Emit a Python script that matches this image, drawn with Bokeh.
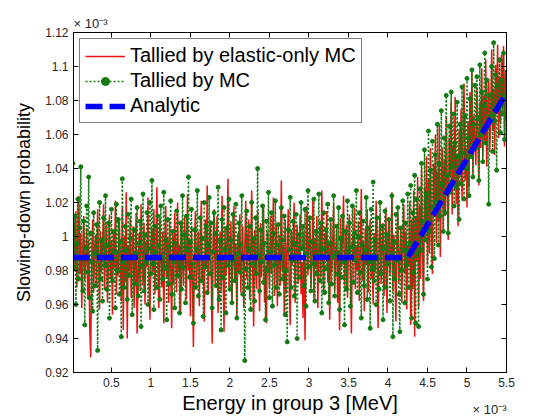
from bokeh.plotting import figure
from bokeh.models import (Range1d, LinearAxis, FixedTicker, CustomJSTickFormatter,
                          Legend, LegendItem, Title)
from bokeh.embed import file_html
from bokeh.resources import INLINE

# Energy in group 3, in units of 1e-3 MeV
energy = [
    0.0125, 0.025, 0.0375, 0.05, 0.0625, 0.075, 0.0875, 0.1,
    0.1125, 0.125, 0.1375, 0.15, 0.1625, 0.175, 0.1875, 0.2,
    0.2125, 0.225, 0.2375, 0.25, 0.2625, 0.275, 0.2875, 0.3,
    0.3125, 0.325, 0.3375, 0.35, 0.3625, 0.375, 0.3875, 0.4,
    0.4125, 0.425, 0.4375, 0.45, 0.4625, 0.475, 0.4875, 0.5,
    0.5125, 0.525, 0.5375, 0.55, 0.5625, 0.575, 0.5875, 0.6,
    0.6125, 0.625, 0.6375, 0.65, 0.6625, 0.675, 0.6875, 0.7,
    0.7125, 0.725, 0.7375, 0.75, 0.7625, 0.775, 0.7875, 0.8,
    0.8125, 0.825, 0.8375, 0.85, 0.8625, 0.875, 0.8875, 0.9,
    0.9125, 0.925, 0.9375, 0.95, 0.9625, 0.975, 0.9875, 1.0,
    1.0125, 1.025, 1.0375, 1.05, 1.0625, 1.075, 1.0875, 1.1,
    1.1125, 1.125, 1.1375, 1.15, 1.1625, 1.175, 1.1875, 1.2,
    1.2125, 1.225, 1.2375, 1.25, 1.2625, 1.275, 1.2875, 1.3,
    1.3125, 1.325, 1.3375, 1.35, 1.3625, 1.375, 1.3875, 1.4,
    1.4125, 1.425, 1.4375, 1.45, 1.4625, 1.475, 1.4875, 1.5,
    1.5125, 1.525, 1.5375, 1.55, 1.5625, 1.575, 1.5875, 1.6,
    1.6125, 1.625, 1.6375, 1.65, 1.6625, 1.675, 1.6875, 1.7,
    1.7125, 1.725, 1.7375, 1.75, 1.7625, 1.775, 1.7875, 1.8,
    1.8125, 1.825, 1.8375, 1.85, 1.8625, 1.875, 1.8875, 1.9,
    1.9125, 1.925, 1.9375, 1.95, 1.9625, 1.975, 1.9875, 2.0,
    2.0125, 2.025, 2.0375, 2.05, 2.0625, 2.075, 2.0875, 2.1,
    2.1125, 2.125, 2.1375, 2.15, 2.1625, 2.175, 2.1875, 2.2,
    2.2125, 2.225, 2.2375, 2.25, 2.2625, 2.275, 2.2875, 2.3,
    2.3125, 2.325, 2.3375, 2.35, 2.3625, 2.375, 2.3875, 2.4,
    2.4125, 2.425, 2.4375, 2.45, 2.4625, 2.475, 2.4875, 2.5,
    2.5125, 2.525, 2.5375, 2.55, 2.5625, 2.575, 2.5875, 2.6,
    2.6125, 2.625, 2.6375, 2.65, 2.6625, 2.675, 2.6875, 2.7,
    2.7125, 2.725, 2.7375, 2.75, 2.7625, 2.775, 2.7875, 2.8,
    2.8125, 2.825, 2.8375, 2.85, 2.8625, 2.875, 2.8875, 2.9,
    2.9125, 2.925, 2.9375, 2.95, 2.9625, 2.975, 2.9875, 3.0,
    3.0125, 3.025, 3.0375, 3.05, 3.0625, 3.075, 3.0875, 3.1,
    3.1125, 3.125, 3.1375, 3.15, 3.1625, 3.175, 3.1875, 3.2,
    3.2125, 3.225, 3.2375, 3.25, 3.2625, 3.275, 3.2875, 3.3,
    3.3125, 3.325, 3.3375, 3.35, 3.3625, 3.375, 3.3875, 3.4,
    3.4125, 3.425, 3.4375, 3.45, 3.4625, 3.475, 3.4875, 3.5,
    3.5125, 3.525, 3.5375, 3.55, 3.5625, 3.575, 3.5875, 3.6,
    3.6125, 3.625, 3.6375, 3.65, 3.6625, 3.675, 3.6875, 3.7,
    3.7125, 3.725, 3.7375, 3.75, 3.7625, 3.775, 3.7875, 3.8,
    3.8125, 3.825, 3.8375, 3.85, 3.8625, 3.875, 3.8875, 3.9,
    3.9125, 3.925, 3.9375, 3.95, 3.9625, 3.975, 3.9875, 4.0,
    4.0125, 4.025, 4.0375, 4.05, 4.0625, 4.075, 4.0875, 4.1,
    4.1125, 4.125, 4.1375, 4.15, 4.1625, 4.175, 4.1875, 4.2,
    4.2125, 4.225, 4.2375, 4.25, 4.2625, 4.275, 4.2875, 4.3,
    4.3125, 4.325, 4.3375, 4.35, 4.3625, 4.375, 4.3875, 4.4,
    4.4125, 4.425, 4.4375, 4.45, 4.4625, 4.475, 4.4875, 4.5,
    4.5125, 4.525, 4.5375, 4.55, 4.5625, 4.575, 4.5875, 4.6,
    4.6125, 4.625, 4.6375, 4.65, 4.6625, 4.675, 4.6875, 4.7,
    4.7125, 4.725, 4.7375, 4.75, 4.7625, 4.775, 4.7875, 4.8,
    4.8125, 4.825, 4.8375, 4.85, 4.8625, 4.875, 4.8875, 4.9,
    4.9125, 4.925, 4.9375, 4.95, 4.9625, 4.975, 4.9875, 5.0,
    5.0125, 5.025, 5.0375, 5.05, 5.0625, 5.075, 5.0875, 5.1,
    5.1125, 5.125, 5.1375, 5.15, 5.1625, 5.175, 5.1875, 5.2,
    5.2125, 5.225, 5.2375, 5.25, 5.2625, 5.275, 5.2875, 5.3,
    5.3125, 5.325, 5.3375, 5.35, 5.3625, 5.375, 5.3875, 5.4,
    5.4125, 5.425, 5.4375, 5.45, 5.4625, 5.475, 5.4875, 5.5,
]

# Slowing-down probability, in units of 1e-3
elastic_only_mc = [
    0.965, 1.008, 0.982, 1.015, 0.970, 0.996, 1.024, 0.978,
    1.002, 0.958, 0.991, 1.012, 0.974, 0.987, 1.005, 0.963,
    0.998, 0.948, 0.929, 0.984, 1.010, 0.967, 0.993, 1.001,
    0.972, 1.016, 0.986, 0.957, 1.003, 0.979, 0.994, 1.019,
    0.969, 0.990, 1.007, 0.961, 0.983, 1.013, 0.975, 0.998,
    0.954, 1.004, 0.981, 1.021, 0.966, 0.992, 0.977, 1.009,
    0.988, 0.962, 1.017, 0.945, 1.000, 0.973, 1.026, 0.940,
    0.995, 0.980, 1.011, 0.964, 0.989, 1.006, 0.958, 0.985,
    1.014, 0.943, 0.976, 1.002, 0.968, 1.019, 0.990, 0.971,
    1.008, 0.960, 0.997, 0.982, 1.023, 0.974, 0.951, 0.993,
    1.005, 0.978, 1.016, 0.966, 0.991, 1.029, 0.984, 0.958,
    1.011, 0.987, 0.970, 1.003, 0.949, 0.995, 1.018, 0.975,
    0.999, 0.961, 1.009, 0.983, 0.946, 1.001, 0.972, 1.014,
    0.988, 0.967, 1.020, 0.979, 0.995, 0.956, 1.007, 0.984,
    0.971, 1.012, 0.990, 0.963, 1.025, 0.980, 0.998, 0.953,
    1.006, 0.976, 0.935, 0.993, 1.015, 0.969, 0.987, 1.003,
    0.959, 0.996, 1.021, 0.974, 0.988, 0.950, 1.010, 0.981,
    1.030, 0.966, 0.993, 1.007, 0.978, 0.937, 0.999, 1.016,
    0.972, 0.990, 1.012, 0.955, 0.986, 1.003, 0.968, 1.024,
    0.983, 0.944, 1.005, 0.977, 0.996, 1.034, 0.970, 0.991,
    1.009, 0.962, 0.985, 1.018, 0.973, 0.995, 0.952, 1.002,
    0.980, 1.013, 0.967, 0.990, 1.006, 0.958, 0.993, 1.021,
    0.975, 0.999, 1.010, 0.963, 0.987, 1.027, 0.979, 0.947,
    1.004, 0.984, 0.969, 1.015, 0.992, 0.956, 1.008, 0.976,
    0.995, 1.019, 0.961, 0.983, 0.949, 1.003, 0.989, 0.970,
    1.012, 0.978, 0.997, 1.023, 0.965, 0.990, 1.006, 0.959,
    0.986, 1.001, 0.971, 1.033, 0.980, 0.995, 0.954, 1.010,
    0.967, 0.992, 1.016, 0.974, 0.948, 1.004, 0.983, 0.998,
    1.020, 0.961, 0.989, 1.007, 0.972, 0.994, 1.013, 0.966,
    0.985, 0.952, 1.003, 0.939, 0.991, 1.018, 0.977, 0.996,
    1.009, 0.970, 0.988, 1.022, 0.963, 0.999, 0.981, 1.012,
    0.958, 0.993, 1.006, 0.976, 1.027, 0.984, 0.966, 1.002,
    0.990, 1.015, 0.973, 0.996, 0.951, 1.008, 0.979, 0.994,
    1.019, 0.968, 0.987, 1.004, 0.961, 0.992, 0.945, 1.011,
    0.982, 0.998, 1.024, 0.971, 0.989, 1.007, 0.964, 0.993,
    1.013, 0.976, 0.943, 1.001, 0.985, 1.017, 0.969, 0.995,
    0.980, 1.009, 0.962, 0.991, 1.028, 0.974, 0.997, 0.956,
    1.005, 0.983, 1.016, 0.967, 0.993, 1.010, 0.975, 0.988,
    0.960, 1.002, 0.979, 1.021, 0.986, 0.946, 0.999, 1.013,
    0.972, 0.994, 1.008, 0.965, 0.987, 1.017, 0.955, 0.996,
    1.011, 0.977, 0.990, 1.026, 0.968, 1.001, 0.984, 0.950,
    0.997, 1.014, 0.973, 0.989, 1.006, 0.961, 0.992, 1.019,
    0.978, 1.003, 0.957, 0.995, 0.983, 1.021, 0.948, 1.010,
    0.969, 1.027, 0.941, 1.012, 0.985, 1.035, 0.958, 1.018,
    0.975, 1.040, 0.992, 0.962, 1.029, 1.006, 1.047, 0.983,
    1.034, 0.990, 1.052, 1.001, 0.978, 1.043, 1.015, 1.060,
    0.996, 1.038, 1.009, 1.066, 0.988, 1.030, 1.052, 1.004,
    1.045, 1.012, 1.071, 1.026, 0.998, 1.058, 1.035, 1.079,
    1.013, 1.054, 1.030, 1.082, 1.019, 1.047, 1.006, 1.063,
    1.038, 1.075, 1.021, 1.060, 1.090, 1.033, 1.052, 1.017,
    1.068, 1.029, 1.085, 1.046, 1.097, 1.036, 1.071, 1.055,
    1.042, 1.088, 1.061, 1.030, 1.079, 1.052, 1.099, 1.047,
    1.083, 1.056, 1.104, 1.041, 1.075, 1.093, 1.050, 1.068,
    1.110, 1.062, 1.087, 1.048, 1.101, 1.072, 1.113, 1.058,
    1.094, 1.067, 1.107, 1.076, 1.112, 1.053, 1.098, 1.085,
]

full_mc = [
    1.043, 0.981, 1.012, 0.960, 0.996, 1.022, 0.975, 1.005,
    1.041, 0.987, 0.968, 1.009, 0.948, 0.993, 1.018, 0.979,
    1.035, 0.964, 1.002, 0.985, 0.956, 1.014, 0.990, 0.971,
    1.007, 0.933, 0.989, 1.020, 0.975, 0.998, 0.962, 1.011,
    0.983, 1.024, 0.969, 0.995, 1.008, 0.952, 0.987, 1.016,
    0.974, 1.003, 0.991, 0.958, 1.019, 0.980, 1.010, 0.966,
    0.997, 0.941, 1.034, 0.985, 0.970, 1.006, 0.992, 0.963,
    1.013, 0.977, 0.999, 1.022, 0.954, 0.988, 1.004, 0.972,
    0.990, 1.017, 0.965, 0.996, 1.009, 0.947, 0.983, 1.025,
    0.968, 1.001, 0.985, 1.014, 0.960, 0.993, 1.020, 0.978,
    1.033, 0.984, 0.957, 1.006, 0.991, 0.970, 1.012, 0.995,
    0.963, 1.018, 0.988, 0.975, 1.026, 0.981, 0.998, 0.951,
    1.010, 0.972, 0.994, 1.021, 0.966, 1.003, 0.985, 0.958,
    0.996, 1.015, 0.977, 0.989, 0.955, 1.008, 0.969, 1.024,
    0.982, 1.001, 0.961, 1.012, 0.992, 1.035, 0.976, 0.997,
    1.016, 0.984, 0.949, 1.004, 0.970, 0.993, 1.027, 0.965,
    0.988, 1.011, 0.974, 0.999, 0.953, 1.020, 0.982, 1.006,
    0.967, 0.995, 1.023, 0.978, 1.008, 0.958, 0.991, 1.014,
    1.002, 0.971, 0.987, 1.029, 0.963, 0.998, 0.945, 1.010,
    0.976, 1.017, 0.992, 0.955, 1.005, 0.983, 1.022, 0.969,
    0.998, 0.961, 1.013, 0.986, 0.974, 1.019, 0.952, 0.990,
    1.008, 0.979, 0.995, 1.024, 0.966, 0.988, 0.927, 0.981,
    1.015, 0.970, 0.993, 1.006, 0.957, 1.020, 0.984, 0.999,
    0.962, 1.011, 0.978, 1.040, 0.989, 0.968, 1.004, 0.985,
    1.018, 0.973, 0.996, 0.951, 1.009, 0.980, 1.026, 0.964,
    0.991, 1.014, 0.959, 1.002, 0.983, 1.021, 0.970, 0.995,
    1.007, 0.966, 0.988, 1.017, 0.975, 0.998, 1.012, 0.954,
    0.980, 0.938, 1.004, 0.992, 1.023, 0.970, 0.986, 1.009,
    0.965, 0.996, 1.013, 0.940, 0.987, 1.001, 0.976, 1.020,
    0.993, 1.006, 0.971, 1.016, 0.959, 0.990, 1.027, 0.982,
    1.011, 0.968, 0.997, 0.984, 1.022, 0.962, 1.003, 0.978,
    0.989, 1.025, 0.974, 1.008, 0.955, 0.993, 1.014, 0.967,
    1.004, 0.981, 1.019, 0.961, 0.996, 1.010, 0.972, 0.988,
    1.024, 0.965, 0.990, 1.006, 0.978, 1.017, 0.957, 0.999,
    0.976, 1.012, 0.985, 0.948, 1.003, 0.969, 1.021, 0.991,
    1.008, 0.959, 0.994, 1.018, 0.973, 1.002, 0.986, 1.027,
    0.967, 1.000, 1.014, 0.979, 0.952, 0.995, 1.009, 0.971,
    0.992, 1.023, 0.963, 1.005, 0.985, 0.946, 1.016, 0.981,
    1.032, 0.974, 0.998, 0.960, 1.011, 0.987, 0.969, 1.020,
    0.978, 1.006, 0.951, 0.993, 1.015, 0.970, 1.001, 0.984,
    1.010, 0.962, 0.989, 1.024, 0.941, 0.997, 0.975, 1.013,
    0.986, 1.017, 0.966, 0.944, 1.005, 0.980, 1.021, 0.992,
    0.961, 1.008, 0.983, 1.025, 0.970, 0.996, 1.030, 0.952,
    1.014, 0.979, 1.036, 0.949, 1.022, 0.990, 0.947, 1.028,
    0.992, 1.043, 1.009, 0.966, 1.051, 0.998, 1.025, 0.975,
    1.062, 1.003, 1.039, 0.982, 1.056, 1.017, 0.987, 1.048,
    1.020, 1.066, 0.995, 1.043, 1.012, 1.074, 1.031, 1.003,
    1.058, 1.014, 1.083, 1.036, 1.002, 1.065, 1.026, 1.085,
    1.041, 1.072, 1.018, 1.055, 1.029, 1.079, 1.047, 1.010,
    1.066, 1.031, 1.088, 1.049, 1.022, 1.071, 1.040, 1.093,
    1.058, 1.024, 1.081, 1.047, 1.098, 1.035, 1.066, 1.089,
    1.052, 1.094, 1.070, 1.033, 1.101, 1.060, 1.085, 1.044,
    1.077, 1.108, 1.055, 1.092, 1.064, 1.019, 1.083, 1.071,
    1.100, 1.050, 1.114, 1.068, 1.095, 1.039, 1.089, 1.076,
    1.104, 1.061, 1.092, 1.072, 1.108, 1.057, 1.083, 1.070,
]

analytic_energy = [0.0125, 4.25, 5.5]
analytic_prob = [0.9876, 0.9876, 1.0845]

x_ticks = [0.5, 1.0, 1.5, 2.0, 2.5, 3.0, 3.5, 4.0, 4.5, 5.0, 5.5]
y_ticks = [0.92, 0.94, 0.96, 0.98, 1.0, 1.02, 1.04, 1.06, 1.08, 1.1, 1.12]

FONT = "Liberation Sans"
TICK_COLOR = "#262626"
EXPONENT = "\u00d7 10\u207b\u00b3"
W, H = 560, 420

p = figure(width=W, height=H, output_backend="svg", toolbar_location=None,
           x_range=Range1d(0.02, 5.5), y_range=Range1d(0.92, 1.12),
           min_border_left=73, min_border_right=54, min_border_top=32,
           min_border_bottom=48, x_axis_location=None, y_axis_location=None)
p.grid.visible = False
p.outline_line_color = "black"
p.outline_line_width = 1
p.background_fill_color = "white"
p.border_fill_color = "white"

fmt = CustomJSTickFormatter(code="return String(Math.round(tick*1000)/1000);")

def make_axis(ticks, show_labels):
    ax = LinearAxis(ticker=FixedTicker(ticks=ticks), formatter=fmt)
    ax.major_tick_in = 5
    ax.major_tick_out = 0
    ax.minor_tick_in = 0
    ax.minor_tick_out = 0
    ax.axis_line_color = "black"
    ax.major_tick_line_color = "black"
    ax.major_label_text_font = FONT
    ax.major_label_text_font_size = "12px"
    ax.major_label_text_color = TICK_COLOR
    ax.major_label_standoff = 5
    ax.axis_label_text_font = FONT
    ax.axis_label_text_font_style = "normal"
    ax.axis_label_text_color = "black"
    if not show_labels:
        ax.major_label_text_alpha = 0
        ax.major_label_text_font_size = "1px"
        ax.major_label_standoff = 0
    return ax

bottom = make_axis(x_ticks, True)
bottom.axis_label = "Energy in group 3 [MeV]"
bottom.axis_label_text_font_size = "20px"
bottom.axis_label_standoff = 2
p.add_layout(bottom, "below")

left = make_axis(y_ticks, True)
left.axis_label = "Slowing-down probability"
left.axis_label_text_font_size = "18px"
left.axis_label_standoff = 8
p.add_layout(left, "left")

p.add_layout(make_axis(x_ticks, False), "above")
p.add_layout(make_axis(y_ticks, False), "right")

# exponent labels of the two axes, as titles aligned to the frame edges
p.add_layout(Title(text=EXPONENT, align="left", text_font=FONT,
                   text_font_size="13px", text_font_style="normal",
                   text_color=TICK_COLOR, standoff=4, offset=0), "above")
p.add_layout(Title(text=EXPONENT, align="right", vertical_align="top",
                   text_font=FONT, text_font_size="13px",
                   text_font_style="normal", text_color=TICK_COLOR,
                   standoff=-30, offset=0), "below")

GREEN = "#117a11"
r_red = p.line(energy, elastic_only_mc, line_color="#ee1111", line_width=1.5)
r_green = p.line(energy, full_mc, line_color=GREEN, line_width=1.5,
                 line_dash="2 2")
r_green_pts = p.scatter(energy, full_mc, size=4, fill_color=GREEN,
                        line_color=GREEN, marker="circle")
r_blue = p.line(analytic_energy, analytic_prob, line_color="#0000ff",
                line_width=5.5, line_dash="17 7")

legend = Legend(items=[
    LegendItem(label="Tallied by elastic-only MC", renderers=[r_red]),
    LegendItem(label="Tallied by MC", renderers=[r_green, r_green_pts]),
    LegendItem(label="Analytic", renderers=[r_blue]),
], location="top_left")
legend.label_text_font = FONT
legend.label_text_font_size = "20px"
legend.label_text_color = "black"
legend.glyph_width = 40
legend.glyph_height = 20
legend.label_height = 20
legend.label_standoff = 5
legend.padding = 5
legend.spacing = 2
legend.margin = 6
legend.border_line_color = "black"
legend.border_line_width = 1
legend.background_fill_alpha = 1
p.add_layout(legend)

open("out.html", "w").write(file_html(p, INLINE))
